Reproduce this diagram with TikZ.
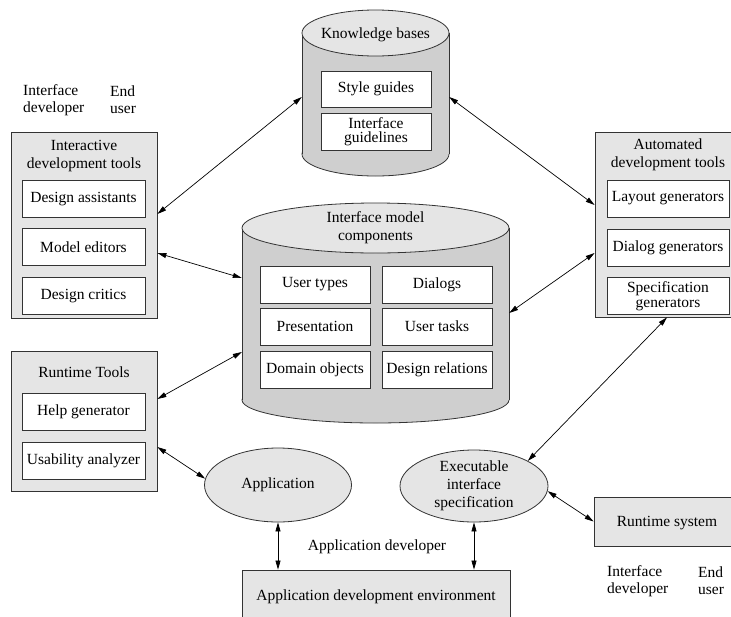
\documentclass[tikz,border=0pt]{standalone}
\usepackage{fontspec}
\setmainfont{Liberation Serif}
\newfontfamily\figfont{Liberation Serif}
\usetikzlibrary{arrows.meta,shapes.geometric}
\definecolor{panelgray}{HTML}{E5E5E5}
\definecolor{drumgray}{HTML}{CFCFCF}
\definecolor{edgegray}{HTML}{333333}

\begin{document}
\begin{tikzpicture}[x=1pt,y=-1pt,
  every node/.style={font=\figfont\fontsize{15.5}{18}\selectfont, inner sep=0pt, text=black},
  panel/.style={draw=edgegray, line width=0.8pt, fill=panelgray},
  item/.style={draw=edgegray, line width=0.8pt, fill=white, align=center, minimum height=37pt},
  tight/.style={font=\figfont\fontsize{15.5}{14.5}\selectfont},
  roles/.style={align=left, anchor=west, font=\figfont\fontsize{15.5}{17}\selectfont},
  blob/.style={ellipse, draw=edgegray, line width=0.8pt, fill=panelgray, align=center},
  outline/.style={draw=edgegray, line width=0.8pt},
  link/.style={{Triangle[length=9pt,width=5pt]}-{Triangle[length=9pt,width=5pt]}, line width=0.7pt, draw=black},
]
\useasboundingbox (0,0) rectangle (731,616);
\clip (0,0) rectangle (731,616);

% ---------- Knowledge bases (drum) ----------
\fill[drumgray] (375.5,154) ellipse [x radius=73.5pt, y radius=22pt];
\draw[outline] (375.5,154) ellipse [x radius=73.5pt, y radius=22pt];
\fill[drumgray] (302,33) rectangle (449,154);
\draw[outline] (302,33) -- (302,154) (449,33) -- (449,154);
\filldraw[outline, fill=panelgray] (375.5,33) ellipse [x radius=73.5pt, y radius=23pt];
\node[minimum width=147pt, minimum height=118pt] (kb) at (375.5,92) {};
\node (kbt) at (375.5,35) {Knowledge bases};
\node[item, minimum width=110pt, minimum height=36pt] (sg) at (376,89) {Style guides};
\node[item, tight, minimum width=110pt] (ig) at (376,131.5) {Interface\\guidelines};

% ---------- Interface model components (drum) ----------
\fill[drumgray] (375.5,400) ellipse [x radius=133.5pt, y radius=23pt];
\draw[outline] (375.5,400) ellipse [x radius=133.5pt, y radius=23pt];
\fill[drumgray] (242,228) rectangle (509,400);
\draw[outline] (242,228) -- (242,400) (509,228) -- (509,400);
\filldraw[outline, fill=panelgray] (375.5,228) ellipse [x radius=133.5pt, y radius=25pt];
\node[minimum width=267pt, minimum height=172pt] (imc) at (375.5,314) {};
\node[align=center] (imct) at (375.5,228) {Interface model\\components};
\node[item, minimum width=110pt] (ut) at (315,284.5) {User types};
\node[item, minimum width=110pt] (dl) at (437,284.5) {Dialogs};
\node[item, minimum width=110pt] (pr) at (315,326.5) {Presentation};
\node[item, minimum width=110pt] (uk) at (437,326.5) {User tasks};
\node[item, minimum width=110pt] (dobj) at (315,369.5) {Domain objects};
\node[item, minimum width=110pt] (dr) at (437,369.5) {Design relations};

% ---------- Interactive development tools ----------
\node[panel, minimum width=146pt, minimum height=186pt] (idt) at (84,225) {};
\node[align=center] (idtt) at (84,156) {Interactive\\development tools};
\node[item, minimum width=123pt] (da) at (83.5,199) {Design assistants};
\node[item, minimum width=123pt] (me) at (83.5,247) {Model editors};
\node[item, minimum width=123pt] (dc) at (83.5,296) {Design critics};

% ---------- Runtime Tools ----------
\node[panel, minimum width=146pt, minimum height=140pt] (rt) at (84,421) {};
\node (rtt) at (84,372) {Runtime Tools};
\node[item, minimum width=123pt] (hg) at (83.5,411.5) {Help generator};
\node[item, minimum width=123pt] (ua) at (83.5,460.5) {Usability analyzer};

% ---------- Automated development tools ----------
\node[panel, minimum width=150pt, minimum height=185pt] (adt) at (670,224.5) {};
\node[align=center] (adtt) at (668,155) {Automated\\development tools};
\node[item, minimum width=122pt] (lg) at (668,198.5) {Layout generators};
\node[item, minimum width=122pt] (dg) at (668,247.5) {Dialog generators};
\node[item, tight, minimum width=122pt] (spg) at (668,296) {Specification\\generators};

% ---------- Runtime system ----------
\node[panel, minimum width=151pt, minimum height=49pt] (rs) at (669.5,521.5) {};
\node (rst) at (667,523) {Runtime system};

% ---------- Application / executable specification ----------
\node[blob, minimum width=147pt, minimum height=74pt] (app) at (278,485) {Application};
\node[blob, minimum width=148pt, minimum height=72pt] (exe) at (474,486) {Executable\\interface\\specification};

% ---------- Application development environment ----------
\node[panel, minimum width=268pt, minimum height=55pt] (ade) at (376,597.5) {};
\node (adet) at (376,597) {Application development environment};
\node (adev) at (377,547) {Application developer};

% ---------- role labels ----------
\node[roles] (roleA) at (23,100) {Interface\\developer};
\node[roles] (roleB) at (110,100) {End\\user};
\node[roles] (roleC) at (607,581) {Interface\\developer};
\node[roles] (roleD) at (698,581) {End\\user};

% ---------- connectors ----------
\draw[link] ([yshift=11pt]idt.east) -- ([yshift=-5pt]kb.west);
\draw[link] ([yshift=-28pt]idt.east) -- ([yshift=36pt]imc.west);
\draw[link] ([yshift=22pt]rt.east) -- ([yshift=-38pt]imc.west);
\draw[link] ([yshift=-26pt]rt.east) -- (app.175);
\draw[link] ([yshift=-5pt]kb.east) -- ([yshift=19.5pt]adt.west);
\draw[link] ([yshift=1pt]imc.east) -- ([yshift=-28.5pt]adt.west);
\draw[link] ([xshift=-3pt]adt.south) -- (exe.25);
\draw[link] (exe.-4) -- (rs.west);
\draw[link] (app.south) -- (app.south |- ade.north);
\draw[link] (exe.south) -- (exe.south |- ade.north);
\end{tikzpicture}
\end{document}
